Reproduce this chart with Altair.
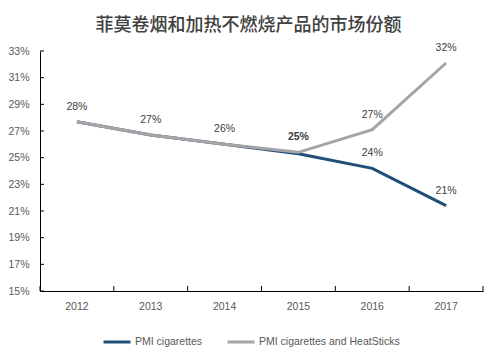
import altair as alt
import pandas as pd

years = ["2012", "2013", "2014", "2015", "2016", "2017"]
pmi_cig = [27.7, 26.7, 26.0, 25.3, 24.2, 21.4]
pmi_heat = [27.7, 26.7, 26.0, 25.4, 27.1, 32.1]
series_names = ["PMI cigarettes", "PMI cigarettes and HeatSticks"]
y_ticks = [15, 17, 19, 21, 23, 25, 27, 29, 31, 33]
title_text = "菲莫卷烟和加热不燃烧产品的市场份额"

rows = []
for y, v, w in zip(years, pmi_cig, pmi_heat):
    rows.append({"year": y, "value": v, "series": series_names[0], "order": 0,
                 "shared": abs(v - w) < 0.5})
for y, v, c in zip(years, pmi_heat, pmi_cig):
    rows.append({"year": y, "value": v, "series": series_names[1], "order": 1,
                 "shared": abs(v - c) < 0.5})
df = pd.DataFrame(rows)

df_years = pd.DataFrame({"year": years})
df_last = pd.DataFrame({"year": years[-1:]})
df_yt = pd.DataFrame({"value": y_ticks})

FONT = "Liberation Sans"
xscale = alt.Scale(type="band", domain=years, paddingInner=0, paddingOuter=0)
yscale = alt.Scale(domain=[15, 33], nice=False, zero=False)

yaxis = alt.Axis(title=None, values=y_ticks, ticks=False, grid=False,
                 labelExpr="datum.value + '%'", labelPadding=11,
                 labelFont=FONT, labelFontSize=10.5, labelColor="#595959",
                 domainColor="#000000")
xaxis = alt.Axis(title=None, labelAngle=0, ticks=False, labelPadding=10,
                 labelFont=FONT, labelFontSize=10.5, labelColor="#595959",
                 domainColor="#000000")

base = alt.Chart(df)

lines = base.mark_line(strokeWidth=3).encode(
    x=alt.X("year:O", scale=xscale, bandPosition=0.5, axis=xaxis),
    y=alt.Y("value:Q", scale=yscale, axis=yaxis),
    color=alt.Color("series:N",
                    scale=alt.Scale(domain=series_names, range=["#1F4E79", "#A5A5A5"]),
                    legend=alt.Legend(title=None, orient="none", direction="horizontal",
                                      legendX=62, legendY=276,
                                      symbolType="stroke", symbolSize=729,
                                      symbolStrokeWidth=3, labelFont=FONT,
                                      labelFontSize=10.5, labelColor="#595959",
                                      columnPadding=18, labelOffset=3)),
    order=alt.Order("order:Q"),
)

# where both series coincide only one label is shown (the one of the upper line)
label_base = base.transform_filter(
    "!datum.shared || datum.order == 1"
).transform_calculate(
    lbl="format(datum.value, '.0f') + '%'"
)
label_enc = dict(
    x=alt.X("year:O", scale=xscale, bandPosition=0.5, axis=xaxis),
    y=alt.Y("value:Q", scale=yscale, axis=yaxis),
    text="lbl:N",
)
labels = label_base.transform_filter("datum.year != '2015'").mark_text(
    dy=-15, font=FONT, fontSize=10.5, color="#404040").encode(**label_enc)
labels_bold = label_base.transform_filter("datum.year == '2015'").mark_text(
    dy=-15, font=FONT, fontSize=10.5, fontWeight="bold", color="#404040").encode(**label_enc)

xticks = alt.Chart(df_years).mark_rule(color="#000000").encode(
    x=alt.X("year:O", scale=xscale, bandPosition=0, axis=xaxis),
    y=alt.value(235), y2=alt.value(240),
)
xticks_end = alt.Chart(df_last).mark_rule(color="#000000").encode(
    x=alt.X("year:O", scale=xscale, bandPosition=1, axis=xaxis),
    y=alt.value(235), y2=alt.value(240),
)
yticks = alt.Chart(df_yt).mark_rule(color="#000000").encode(
    y=alt.Y("value:Q", scale=yscale, axis=yaxis),
    x=alt.value(0), x2=alt.value(4),
)

chart = alt.layer(lines, labels, labels_bold, xticks, xticks_end, yticks).properties(
    width=443, height=240,
    padding={"left": 40, "top": 51, "right": 15, "bottom": 62},
    autosize=alt.AutoSizeParams(type="none"),
    title=alt.TitleParams(title_text, font="Noto Sans CJK SC", fontSize=18,
                          fontWeight=500, color="#404040", anchor="middle",
                          dx=-13, offset=8),
).configure_view(stroke=None).configure_axis(grid=False)

chart.save("out.html", embed_options={"renderer": "svg", "actions": False})
